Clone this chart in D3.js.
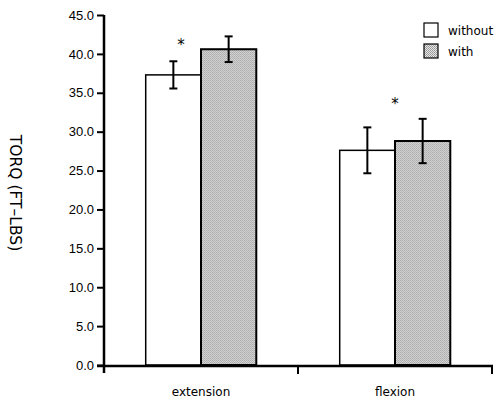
<!DOCTYPE html>
<html lang="en">
<head>
<meta charset="utf-8">
<title>Torque</title>
<style>
  body { margin:0; background:#fff; }
  svg { position:absolute; top:0; left:0; font-family:"DejaVu Sans", sans-serif; }
</style>
<script src="https://d3js.org/d3.v7.min.js"></script>
</head>
<body>
<script>
// data
var categories = ["extension", "flexion"];
var series = ["without", "with"];
var means = [[37.3, 40.6], [27.6, 28.8]];
var errs = [[1.75, 1.65], [2.95, 2.85]];
var yTicks = [0, 5, 10, 15, 20, 25, 30, 35, 40, 45];
// asterisk: [category, position across group (0..1), value]
var stars = [["extension", 0.32, 41.7], ["flexion", 0.5, 34.1]];

var width = 497, height = 403;
var svg = d3.select("body").append("svg")
  .attr("width", width).attr("height", height);

var defs = svg.append("defs");
var pat = defs.append("pattern").attr("id", "dots")
  .attr("width", 2).attr("height", 2).attr("patternUnits", "userSpaceOnUse");
pat.append("rect").attr("width", 2).attr("height", 2).attr("fill", "#e6e6e6");
pat.append("rect").attr("width", 1).attr("height", 1).attr("fill", "#949494");
pat.append("rect").attr("x", 1).attr("y", 1).attr("width", 1).attr("height", 1).attr("fill", "#a4a4a4");

var x0 = d3.scaleBand().domain(categories).range([104, 492]);
var x1 = d3.scaleBand().domain(series).range([0, x0.bandwidth() * 0.57]);
var y = d3.scaleLinear().domain([0, 45]).range([365, 15]);
var off = (x0.bandwidth() - x1.range()[1]) / 2;

// y axis
var yAxis = svg.append("g").attr("transform", "translate(104,0)")
  .call(d3.axisLeft(y).tickValues(yTicks).tickFormat(d3.format(".1f")).tickSize(7).tickPadding(3));
yAxis.select(".domain").remove();
yAxis.selectAll("line").attr("stroke", "#000").attr("stroke-width", 2);
yAxis.selectAll("text").attr("font-size", 13).attr("fill", "#000");
svg.append("line").attr("x1", 104).attr("x2", 104).attr("y1", y(45)).attr("y2", 373)
  .attr("stroke", "#000").attr("stroke-width", 2.5);

// bars
var g = svg.selectAll(".cat").data(categories).enter().append("g")
  .attr("transform", function(d){ return "translate(" + (x0(d) + off) + ",0)"; });

g.selectAll("rect").data(function(d, i){ return series.map(function(s, j){ return {s:s, v:means[i][j], e:errs[i][j]}; }); })
  .enter().append("rect")
  .attr("x", function(d){ return x1(d.s); })
  .attr("width", x1.bandwidth())
  .attr("y", function(d){ return y(d.v); })
  .attr("height", function(d){ return y(0) - y(d.v); })
  .attr("fill", function(d){ return d.s == "with" ? "url(#dots)" : "#fff"; })
  .attr("stroke", "#000")
  .attr("stroke-width", function(d){ return d.s == "with" ? 2 : 1.5; });

// error bars
var eb = g.selectAll(".eb").data(function(d, i){ return series.map(function(s, j){ return {s:s, v:means[i][j], e:errs[i][j]}; }); })
  .enter().append("g").attr("class", "eb")
  .attr("transform", function(d){ return "translate(" + (x1(d.s) + x1.bandwidth() / 2) + ",0)"; });
eb.append("line").attr("y1", function(d){ return y(d.v + d.e); }).attr("y2", function(d){ return y(d.v - d.e); })
  .attr("stroke", "#000").attr("stroke-width", 2);
eb.append("line").attr("x1", -4).attr("x2", 4).attr("y1", function(d){ return y(d.v + d.e); }).attr("y2", function(d){ return y(d.v + d.e); })
  .attr("stroke", "#000").attr("stroke-width", 2);
eb.append("line").attr("x1", -4).attr("x2", 4).attr("y1", function(d){ return y(d.v - d.e); }).attr("y2", function(d){ return y(d.v - d.e); })
  .attr("stroke", "#000").attr("stroke-width", 2);

// x axis
svg.append("line").attr("x1", 97).attr("x2", 493).attr("y1", 366).attr("y2", 366)
  .attr("stroke", "#000").attr("stroke-width", 2.5);
[x0.range()[0] + x0.bandwidth(), x0.range()[1]].forEach(function(t){
  svg.append("line").attr("x1", t).attr("x2", t).attr("y1", 366).attr("y2", 374)
    .attr("stroke", "#000").attr("stroke-width", 2);
});
svg.selectAll(".clab").data(categories).enter().append("text")
  .attr("x", function(d){ return x0(d) + x0.bandwidth() / 2; })
  .attr("y", 396).attr("text-anchor", "middle").attr("font-size", 12)
  .text(function(d){ return d; });

// asterisks
svg.selectAll(".star").data(stars).enter().append("text")
  .attr("x", function(d){ return x0(d[0]) + off + x1.range()[1] * d[1]; })
  .attr("y", function(d){ return y(d[2]) + 9; })
  .attr("text-anchor", "middle").attr("font-size", 15)
  .text("*");

// y title
svg.append("text").attr("transform", "translate(10,193) rotate(90)")
  .attr("text-anchor", "middle").attr("font-size", 15.5)
  .text("TORQ (FT\u2013LBS)");

// legend
var lg = svg.selectAll(".lg").data(series).enter().append("g")
  .attr("transform", function(d, i){ return "translate(424," + (23 + i * 21) + ")"; });
lg.append("rect").attr("width", 14).attr("height", 14)
  .attr("fill", function(d){ return d == "with" ? "url(#dots)" : "#fff"; })
  .attr("stroke", "#000").attr("stroke-width", 1.2);
lg.append("text").attr("x", 24).attr("y", 12).attr("font-size", 12).text(function(d){ return d; });
</script>
</body>
</html>
